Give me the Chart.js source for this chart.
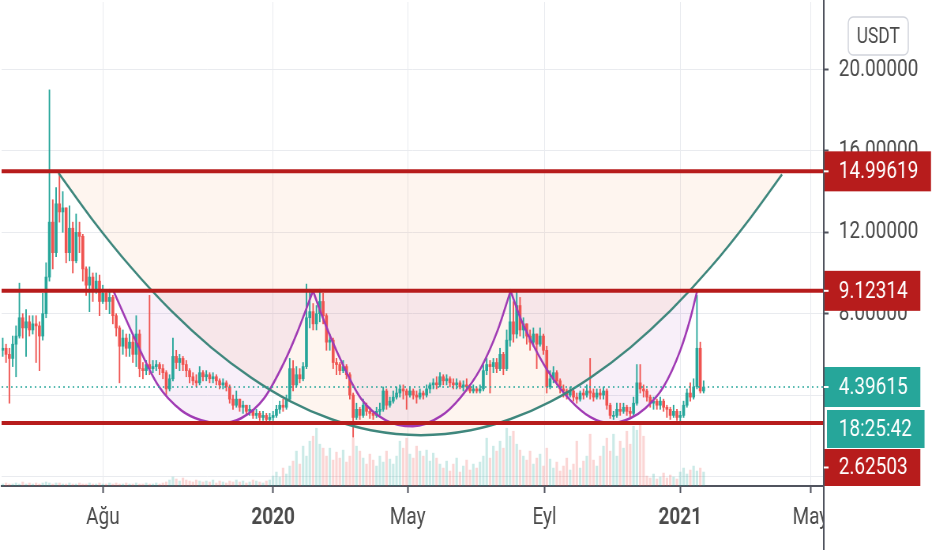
<!DOCTYPE html>
<html>
<head>
<meta charset="utf-8">
<script src="https://cdn.jsdelivr.net/npm/chart.js@4.4.1/dist/chart.umd.min.js"></script>
<style>
html, body { margin: 0; padding: 0; overflow: hidden; background: #fff; }
/* the reference is a horizontally squeezed screenshot */
#squeeze { width: 1180px; height: 550px; transform: scaleX(0.7898); transform-origin: 0 0; }
#box { position: relative; width: 1180px; height: 550px; }
</style>
</head>
<body>
<div id="squeeze"><div id="box"><canvas id="chart"></canvas></div></div>
<script>
// x values are days counted from 1 Jan 2020, one candle = 3 days
const firstDay = -243;
const candleDays = 3;
const firstOpen = 6.2;

const closes = [
    6.3, 6.0, 5.8, 6.5, 6.9, 7.8, 7.3, 7.6, 7.2, 7.5,
    7.4, 6.9, 8.0, 9.8, 12.5, 11.0, 13.4, 13.0, 13.2, 11.0,
    12.2, 10.6, 12.0, 11.8, 10.2, 9.4, 9.8, 9.2, 9.6, 8.6,
    9.0, 8.6, 8.8, 7.9, 7.3, 6.4, 6.8, 6.3, 6.6, 6.0,
    7.0, 5.3, 5.2, 5.5, 5.3, 5.4, 5.5, 5.3, 5.1, 4.3,
    4.8, 5.9, 5.6, 5.8, 5.5, 5.2, 4.9, 4.7, 4.6, 5.1,
    4.9, 5.0, 4.8, 4.9, 4.7, 4.5, 4.6, 4.4, 3.8, 3.5,
    3.8, 3.4, 3.5, 3.2, 3.3, 3.0, 3.1, 2.9, 3.0, 2.8,
    2.9, 3.0, 3.3, 3.5, 3.4, 3.8, 5.3, 4.5, 5.0, 4.8,
    5.4, 7.8, 8.1, 7.5, 8.0, 8.6, 7.9, 6.6, 6.7, 5.6,
    5.5, 5.2, 5.4, 5.0, 4.0, 2.9, 3.3, 3.0, 3.5, 3.2,
    3.1, 3.0, 3.2, 3.3, 4.2, 3.5, 3.7, 3.9, 4.1, 4.3,
    4.2, 4.0, 4.2, 4.0, 3.9, 4.1, 4.0, 4.3, 4.5, 4.6,
    4.5, 4.9, 4.7, 4.8, 4.6, 4.5, 4.6, 4.4, 4.5, 4.4,
    4.2, 4.3, 4.2, 4.3, 5.2, 5.5, 5.4, 5.6, 5.3, 6.0,
    5.3, 6.7, 7.6, 7.0, 8.4, 7.2, 7.5, 6.9, 6.6, 7.0,
    6.5, 6.9, 6.2, 4.4, 4.8, 5.1, 4.7, 4.3, 4.2, 4.0,
    4.2, 3.9, 3.8, 4.1, 4.0, 4.2, 4.1, 3.9, 4.1, 4.0,
    4.2, 3.5, 3.0, 3.0, 3.3, 3.2, 3.4, 3.2, 3.1, 3.6,
    4.6, 4.3, 4.2, 3.9, 3.6, 3.7, 3.5, 3.7, 3.4, 3.3,
    3.0, 3.2, 2.9, 3.0, 3.5, 4.1, 3.9, 4.4, 6.3, 4.2,
    4.39615
];
const highs = [
    6.8, 6.5, 6.3, 6.9, 7.4, 9.5, 8.0, 8.2, 7.9, 7.9,
    7.9, 7.6, 9.0, 10.5, 19.0, 13.6, 14.2, 14.9, 14.0, 13.2,
    13.3, 12.5, 12.9, 12.5, 11.9, 10.3, 10.3, 10.0, 10.0, 9.9,
    9.4, 9.1, 9.2, 8.9, 8.0, 7.4, 7.2, 7.0, 7.0, 6.9,
    7.9, 7.2, 5.6, 5.7, 8.9, 5.7, 5.7, 5.6, 5.5, 5.2,
    5.0, 6.8, 6.2, 6.0, 5.9, 5.7, 5.3, 5.1, 5.0, 5.4,
    5.2, 5.2, 5.1, 5.1, 5.0, 4.8, 4.8, 4.7, 4.5, 4.0,
    4.2, 3.8, 3.7, 3.5, 3.5, 3.3, 3.3, 3.2, 3.2, 3.1,
    3.1, 3.2, 3.5, 3.7, 3.8, 4.0, 5.8, 5.7, 5.4, 5.3,
    5.6, 9.45, 9.2, 8.5, 8.4, 9.2, 9.0, 8.0, 7.0, 6.8,
    5.8, 5.6, 5.7, 5.5, 5.1, 4.1, 3.6, 3.4, 3.8, 3.6,
    3.4, 3.2, 3.4, 3.6, 4.4, 4.3, 3.9, 4.2, 4.4, 4.5,
    4.5, 4.3, 4.4, 4.3, 4.2, 4.3, 4.2, 4.5, 4.6, 4.8,
    4.9, 5.1, 5.0, 5.0, 4.9, 4.8, 4.8, 4.7, 4.7, 4.8,
    4.5, 4.5, 4.4, 4.5, 5.5, 5.8, 5.7, 5.8, 5.8, 6.3,
    6.1, 7.2, 9.2, 8.6, 9.12, 8.8, 7.8, 7.5, 7.2, 7.3,
    7.0, 7.3, 7.0, 6.4, 5.2, 5.4, 5.2, 4.8, 4.5, 4.3,
    4.4, 4.3, 4.1, 4.2, 4.3, 4.5, 5.8, 4.3, 4.3, 4.3,
    4.4, 4.3, 3.6, 3.2, 3.6, 3.6, 3.6, 3.5, 3.4, 3.9,
    5.5, 5.5, 4.5, 4.3, 4.0, 3.9, 3.8, 3.9, 3.8, 3.5,
    3.4, 3.5, 3.3, 3.2, 3.7, 4.3, 4.6, 4.8, 8.9, 6.6,
    4.7
];
const lows = [
    5.9, 5.6, 3.6, 5.4, 4.9, 6.8, 6.8, 5.9, 6.9, 7.0,
    5.6, 5.2, 6.7, 7.8, 9.6, 10.2, 10.8, 12.5, 12.0, 10.5,
    10.6, 10.0, 10.5, 11.0, 9.6, 8.9, 8.1, 8.6, 9.0, 7.9,
    8.5, 8.2, 8.0, 7.5, 6.9, 4.6, 6.0, 5.9, 5.9, 5.6,
    5.4, 4.9, 4.8, 5.0, 5.0, 5.1, 5.2, 5.0, 4.8, 4.0,
    4.2, 4.7, 5.3, 5.2, 5.2, 4.9, 4.6, 4.5, 4.4, 4.5,
    4.7, 4.7, 4.6, 4.6, 4.5, 4.3, 4.3, 4.2, 3.6, 3.3,
    3.4, 3.2, 3.1, 3.0, 3.0, 2.85, 2.85, 2.75, 2.75, 2.65,
    2.7, 2.75, 2.9, 3.1, 3.2, 3.3, 3.7, 4.2, 4.4, 4.6,
    4.7, 5.3, 7.3, 7.2, 7.2, 7.6, 7.5, 6.2, 6.2, 5.3,
    5.0, 5.0, 5.1, 4.8, 3.8, 1.93, 2.8, 2.8, 2.9, 3.0,
    2.85, 2.8, 2.9, 3.0, 3.2, 3.3, 3.4, 3.6, 3.8, 3.9,
    3.8, 3.3, 3.9, 3.8, 3.6, 3.8, 3.8, 3.9, 4.1, 4.3,
    4.3, 4.4, 4.5, 4.5, 4.4, 4.3, 4.3, 4.3, 4.2, 4.2,
    4.1, 4.1, 4.1, 4.1, 4.2, 5.0, 4.1, 5.1, 5.1, 5.2,
    5.0, 5.2, 6.4, 6.6, 6.8, 6.9, 6.8, 6.5, 6.2, 6.4,
    5.3, 6.4, 6.0, 4.1, 4.3, 4.6, 4.5, 4.1, 3.9, 3.8,
    3.9, 3.7, 3.6, 3.7, 3.8, 3.9, 3.8, 3.7, 3.8, 3.8,
    3.8, 3.3, 2.85, 2.8, 2.9, 3.0, 3.1, 3.0, 2.9, 3.0,
    3.5, 4.1, 3.9, 3.7, 3.4, 3.3, 3.3, 3.3, 3.2, 2.9,
    2.8, 2.9, 2.75, 2.7, 2.9, 3.4, 3.7, 3.8, 4.3, 4.1,
    4.1
];
const volumes = [
    2, 3, 2, 2, 3, 2, 4, 2, 3, 2,
    3, 2, 3, 4, 3, 2, 3, 3, 2, 2,
    3, 2, 2, 3, 2, 2, 3, 2, 2, 3,
    2, 2, 3, 2, 3, 2, 2, 3, 2, 2,
    3, 2, 2, 3, 2, 2, 3, 2, 3, 4,
    6, 9, 7, 5, 8, 6, 5, 4, 6, 5,
    4, 5, 4, 6, 3, 5, 4, 3, 5, 4,
    6, 4, 5, 3, 4, 6, 5, 4, 3, 5,
    6, 10, 14, 9, 18, 12, 20, 25, 35, 22,
    40, 30, 45, 50, 58, 42, 38, 30, 38, 26,
    34, 28, 36, 24, 30, 48, 40, 35, 28, 22,
    32, 26, 20, 30, 24, 35, 27, 22, 30, 45,
    38, 48, 32, 28, 40, 35, 30, 36, 25, 33,
    28, 22, 18, 25, 15, 22, 28, 14, 20, 26,
    16, 22, 18, 24, 30, 48, 28, 40, 35, 45,
    38, 58, 50, 55, 42, 36, 30, 26, 35, 22,
    28, 32, 20, 38, 27, 18, 24, 15, 20, 28,
    16, 22, 45, 18, 25, 30, 52, 26, 20, 30,
    40, 48, 35, 52, 30, 45, 38, 55, 42, 60,
    56, 62, 50, 10, 8, 12, 7, 9, 13, 8,
    11, 9, 7, 14, 18, 12, 16, 20, 15, 18,
    14
];

const tickDays = [-153, 0, 121, 244, 366, 483];
const tickLabels = ["Ağu", "2020", "May", "Eyl", "2021", "May"];
const yearTicks = ["2020", "2021"];
const priceTicks = [0, 4, 8, 12, 16, 20];

const levelTop = 14.99619;
const levelMid = 9.12314;
const levelLow = 2.62503;
const lastPrice = 4.39615;
const countdown = "18:25:42";
const currency = "USDT";

// drawn curves, [day, price]
const bigCurve = [
    [-192.9, 14.92], [-163.3, 12.69], [-127.4, 10.26], [-91.5, 8.14], [-55.6, 6.34],
    [-19.7, 4.86], [16.1, 3.68], [52.0, 2.82], [87.9, 2.27], [132.8, 2.03],
    [177.6, 2.27], [213.5, 2.82], [249.4, 3.68], [285.3, 4.86], [321.2, 6.34],
    [357.1, 8.14], [393.0, 10.26], [428.8, 12.69], [457.5, 14.85]
];
const cup1 = [
    [-143.5, 9.12], [-124.7, 6.82], [-103.2, 4.47], [-82.5, 3.25], [-64.6, 2.76],
    [-48.4, 2.61], [-28.7, 2.86], [-8.1, 3.84], [9.9, 5.60], [22.4, 7.17], [35.9, 9.12]
];
const cup2 = [
    [35.9, 9.12], [45.7, 7.66], [61.0, 5.70], [78.9, 3.84], [101.4, 2.76],
    [125.6, 2.47], [150.7, 2.96], [168.6, 3.89], [186.6, 5.31], [201.8, 7.17], [213.5, 9.12]
];
const cup3 = [
    [213.5, 9.12], [222.5, 7.76], [234.1, 6.43], [246.7, 5.21], [267.3, 3.74],
    [285.3, 2.91], [303.2, 2.61], [321.1, 2.86], [334.6, 3.35], [350.7, 4.38],
    [366.0, 6.19], [375.0, 7.75], [381.2, 9.12]
];

const xMin = -244, xMax = 495;
const UP = "#26a69a", DOWN = "#ef5350", RED = "#b71c1c";
const AXIS = "#50535e", GRID = "#e9ebef", TEXT = "#4a4a4a";
const FONT = "Roboto, 'Noto Sans', sans-serif";

const days = closes.map((c, i) => firstDay + i * candleDays);
const opens = closes.map((c, i) => (i === 0 ? firstOpen : closes[i - 1]));
const colors = closes.map((c, i) => (c >= opens[i] ? UP : DOWN));
const volColors = closes.map((c, i) => (c >= opens[i] ? "rgba(38,166,154,0.24)" : "rgba(239,83,80,0.24)"));

function curveSet(points, color, fillColor, level) {
    return {
        type: "line",
        data: points.map((p) => ({ x: p[0], y: p[1] })),
        borderColor: color,
        borderWidth: 2.5,
        pointRadius: 0,
        cubicInterpolationMode: "monotone",
        fill: { value: level },
        backgroundColor: fillColor,
        order: 3,
    };
}

function levelSet(price, color, width, dash, order) {
    return {
        type: "line",
        data: [{ x: xMin, y: price }, { x: xMax, y: price }],
        borderColor: color,
        borderWidth: width,
        borderDash: dash,
        pointRadius: 0,
        fill: false,
        order: order,
    };
}

// price tags, countdown and currency box on the price axis
const axisOverlay = {
    id: "axisOverlay",
    afterDraw(chart) {
        const ctx = chart.ctx;
        const area = chart.chartArea;
        const ys = chart.scales.y;
        const ax = area.right;
        ctx.save();
        ctx.fillStyle = "#ffffff";
        ctx.fillRect(ax, area.bottom + 1, chart.width - ax, chart.height - area.bottom);
        ctx.strokeStyle = AXIS;
        ctx.lineWidth = 2;
        ctx.beginPath();
        ctx.moveTo(ax, 0);
        ctx.lineTo(ax, chart.height);
        ctx.stroke();

        ctx.font = "24px Roboto";
        ctx.textBaseline = "middle";
        ctx.textAlign = "left";
        function tag(text, top, h, bg, x0, dash) {
            const tx = ax + 19;
            const w = tx + ctx.measureText(text).width + 16 - x0;
            ctx.fillStyle = bg;
            ctx.fillRect(x0, top, w, h);
            ctx.fillStyle = "#ffffff";
            ctx.fillText(text, tx, top + h / 2 + 1);
            if (dash) {
                ctx.strokeStyle = "#ffffff";
                ctx.lineWidth = 2;
                ctx.beginPath();
                ctx.moveTo(ax, top + h / 2);
                ctx.lineTo(ax + 6, top + h / 2);
                ctx.stroke();
            }
            return top + h;
        }
        const yTop = ys.getPixelForValue(levelTop);
        tag(levelTop.toFixed(5), yTop - 20, 40, RED, ax + 1, true);
        const yMid = ys.getPixelForValue(levelMid);
        tag(levelMid.toFixed(5), yMid - 20, 40, RED, ax + 1, true);
        const yLast = ys.getPixelForValue(lastPrice);
        const b3 = tag(lastPrice.toFixed(5), yLast - 20, 40, UP, ax + 1, true);
        const b4 = tag(countdown, b3 + 3, 38, UP, ax + 4, false);
        tag(levelLow.toFixed(5), b4 + 1, area.bottom - b4 - 1, RED, ax + 1, true);

        ctx.beginPath();
        ctx.roundRect(ax + 31, 17, 76, 38, 6);
        ctx.fillStyle = "#ffffff";
        ctx.fill();
        ctx.strokeStyle = "#d1d4dc";
        ctx.lineWidth = 1.5;
        ctx.stroke();
        ctx.fillStyle = TEXT;
        ctx.textAlign = "center";
        ctx.font = "22px Roboto";
        ctx.fillText(currency, ax + 69, 37);
        ctx.restore();
    },
};

const ctx = document.getElementById("chart").getContext("2d");
new Chart(ctx, {
    type: "bar",
    data: {
        datasets: [
            levelSet(levelTop, RED, 4, [], 1),
            levelSet(levelMid, RED, 4, [], 1),
            levelSet(levelLow, RED, 4, [], 1),
            levelSet(lastPrice, UP, 1.5, [2, 4], 2),
            curveSet(bigCurve, "#3f877d", "rgba(242,140,80,0.09)", levelTop),
            curveSet(cup1, "#a03bb4", "rgba(156,39,176,0.075)", levelMid),
            curveSet(cup2, "#a03bb4", "rgba(156,39,176,0.075)", levelMid),
            curveSet(cup3, "#a03bb4", "rgba(156,39,176,0.075)", levelMid),
            {
                // candle bodies
                data: closes.map((c, i) => ({ x: days[i], y: [opens[i], c] })),
                backgroundColor: colors,
                barThickness: 3,
                order: 4,
            },
            {
                // candle wicks
                data: closes.map((c, i) => ({
                    x: days[i],
                    y: [Math.min(lows[i], opens[i], c), Math.max(highs[i], opens[i], c)],
                })),
                backgroundColor: colors,
                barThickness: 1.2,
                order: 5,
            },
            {
                data: volumes.map((v, i) => ({ x: days[i], y: v })),
                backgroundColor: volColors,
                barThickness: 2.5,
                yAxisID: "yv",
                order: 6,
            },
        ],
    },
    options: {
        responsive: true,
        maintainAspectRatio: false,
        animation: false,
        devicePixelRatio: 1,
        layout: { padding: 0 },
        datasets: { bar: { grouped: false, borderWidth: 0, minBarLength: 1 } },
        plugins: {
            legend: { display: false },
            tooltip: { enabled: false },
            filler: { drawTime: "beforeDatasetsDraw" },
        },
        scales: {
            x: {
                type: "linear",
                min: xMin,
                max: xMax,
                offset: false,
                grid: { color: GRID, offset: false, tickLength: 7, tickColor: AXIS, tickWidth: 2 },
                border: { color: AXIS, width: 2 },
                ticks: {
                    autoSkip: false,
                    maxRotation: 0,
                    padding: 11,
                    color: TEXT,
                    font: (c) => ({
                        family: FONT,
                        size: 24,
                        weight: yearTicks.includes(tickLabels[c.index]) ? "bold" : "normal",
                    }),
                    callback: (v, i) => tickLabels[i],
                },
                afterBuildTicks: (s) => { s.ticks = tickDays.map((v) => ({ value: v })); },
                afterFit: (s) => { s.height = 64; s.paddingLeft = 0; s.paddingRight = 0; },
            },
            y: {
                type: "linear",
                position: "right",
                min: -0.47,
                max: 23.32,
                grid: { color: GRID, tickLength: 6, tickColor: AXIS, tickWidth: 2 },
                border: { display: false },
                ticks: {
                    padding: 13,
                    color: TEXT,
                    font: { family: FONT, size: 24 },
                    callback: (v) => Number(v).toFixed(5),
                },
                afterBuildTicks: (s) => { s.ticks = priceTicks.map((v) => ({ value: v })); },
                afterFit: (s) => { s.width = 137; s.paddingTop = 0; s.paddingBottom = 0; },
            },
            yv: { display: false, min: 0, max: 486 },
        },
    },
    plugins: [axisOverlay],
});
</script>
</body>
</html>
